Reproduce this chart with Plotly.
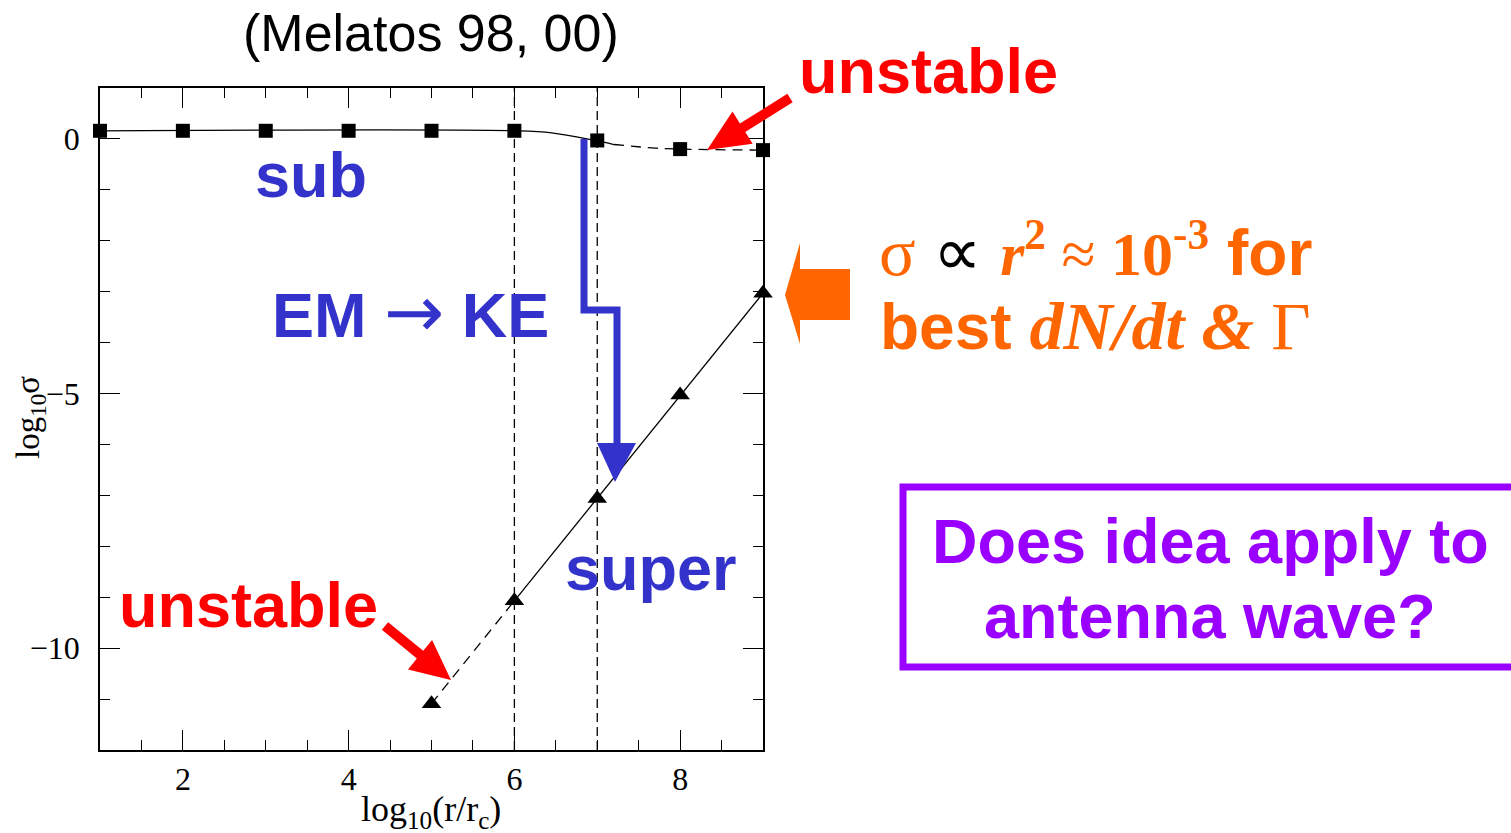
import plotly.graph_objects as go

# ---------------- data ----------------
x_sub = [1, 2, 3, 4, 5, 6, 7, 8, 9]
y_sub = [0.16, 0.16, 0.16, 0.16, 0.16, 0.16, -0.03, -0.20, -0.22]

x_sub_curve_solid = [1, 6, 6.45, 6.97, 7.2]
y_sub_curve_solid = [0.16, 0.16, 0.12, -0.03, -0.11]
x_sub_curve_dash = [7.2, 7.7, 8, 9]
y_sub_curve_dash = [-0.11, -0.18, -0.20, -0.22]

x_super = [5, 6, 7, 8, 9]
y_super = [-11.09, -9.07, -7.06, -5.03, -3.03]

x_super_dash = [5, 6]
y_super_dash = [-11.09, -9.07]
x_super_solid = [6, 7, 8, 9]
y_super_solid = [-9.07, -7.06, -5.03, -3.03]

vlines_x = [6, 7]
x_range = [1, 9]
y_range = [-12, 1]

# ---------------- layout geometry (pixels) ----------------
W, H = 1511, 833
L, R, T, B = 100, 763, 88, 750


def P(px, py):
    return (px - L) / (R - L), (B - py) / (B - T)


def poly(points):
    s = ""
    for i, (px, py) in enumerate(points):
        a, b = P(px, py)
        s += ("M" if i == 0 else " L") + f" {a:.5f} {b:.5f}"
    return s


def arrow_points(tail, tip, shaft_w, head_len, head_w):
    import math
    dx, dy = tip[0] - tail[0], tip[1] - tail[1]
    d = math.hypot(dx, dy)
    ux, uy = dx / d, dy / d
    nx, ny = -uy, ux
    bx, by = tip[0] - ux * head_len, tip[1] - uy * head_len
    sw, hw = shaft_w / 2, head_w / 2
    return [
        (tail[0] + nx * sw, tail[1] + ny * sw),
        (bx + nx * sw, by + ny * sw),
        (bx + nx * hw, by + ny * hw),
        tip,
        (bx - nx * hw, by - ny * hw),
        (bx - nx * sw, by - ny * sw),
        (tail[0] - nx * sw, tail[1] - ny * sw),
    ]


BLUE = "#3333cc"
RED = "#ff0000"
ORANGE = "#ff6600"
PURPLE = "#9900ff"

fig = go.Figure()

fig.add_trace(go.Scatter(x=x_sub_curve_solid, y=y_sub_curve_solid, mode="lines",
                         line=dict(color="black", width=1.3, shape="spline"),
                         hoverinfo="skip", showlegend=False))
fig.add_trace(go.Scatter(x=x_sub_curve_dash, y=y_sub_curve_dash, mode="lines",
                         line=dict(color="black", width=1.3, dash="10px,7px", shape="spline"),
                         hoverinfo="skip", showlegend=False))
fig.add_trace(go.Scatter(x=x_super_dash, y=y_super_dash, mode="lines",
                         line=dict(color="black", width=1.3, dash="10px,7px"),
                         hoverinfo="skip", showlegend=False))
fig.add_trace(go.Scatter(x=x_super_solid, y=y_super_solid, mode="lines",
                         line=dict(color="black", width=1.3),
                         hoverinfo="skip", showlegend=False))
fig.add_trace(go.Scatter(x=x_sub, y=y_sub, mode="markers",
                         marker=dict(symbol="square", size=14, color="black"),
                         showlegend=False, cliponaxis=False))
fig.add_trace(go.Scatter(x=x_super, y=y_super, mode="markers",
                         marker=dict(symbol="triangle-up", size=17, color="black"),
                         showlegend=False, cliponaxis=False))

shapes = []
for xv in vlines_x:
    shapes.append(dict(type="line", xref="x", yref="paper", x0=xv, x1=xv, y0=0, y1=1,
                       line=dict(color="black", width=1.3, dash="9px,5px"), layer="above"))

# blue step arrow
shapes.append(dict(type="path", xref="paper", yref="paper",
                   path=poly([(584, 139), (584, 310), (617, 310), (617, 445)]),
                   line=dict(color=BLUE, width=7), fillcolor="rgba(0,0,0,0)"))
shapes.append(dict(type="path", xref="paper", yref="paper",
                   path=poly([(597, 443), (636, 443), (615, 482)]) + " Z",
                   line=dict(color=BLUE, width=0), fillcolor=BLUE))

# red arrows
for tail, tip, hl, hw in [((790, 98), (707, 150), 42, 38), ((385, 626), (451, 680), 40, 38)]:
    shapes.append(dict(type="path", xref="paper", yref="paper",
                       path=poly(arrow_points(tail, tip, 10, hl, hw)) + " Z",
                       line=dict(color=RED, width=0), fillcolor=RED))

# orange block arrow
shapes.append(dict(type="path", xref="paper", yref="paper",
                   path=poly([(850, 269), (800, 269), (800, 243), (785, 295), (800, 344),
                              (800, 320), (850, 320)]) + " Z",
                   line=dict(color=ORANGE, width=0), fillcolor=ORANGE))

# purple box
bx0, by0 = P(903, 667)
bx1, by1 = P(1530, 487)
shapes.append(dict(type="rect", xref="paper", yref="paper", x0=bx0, x1=bx1, y0=by0, y1=by1,
                   line=dict(color=PURPLE, width=7), fillcolor="rgba(0,0,0,0)"))

annotations = []


def ann(text, px, py, size, color, family="Liberation Sans", xanchor="center", angle=0):
    a, b = P(px, py)
    annotations.append(dict(text=text, x=a, y=b, xref="paper", yref="paper", showarrow=False,
                            xanchor=xanchor, yanchor="middle", borderpad=0, textangle=angle,
                            font=dict(family=family, size=size, color=color)))


ann("(Melatos 98, 00)", 431, 33, 52, "black")
ann("<b>unstable</b>", 928, 71, 63, RED)
ann("<b>unstable</b>", 248, 605, 63, RED)
ann("<b>sub</b>", 311, 175, 63, BLUE)
ann("<b>EM</b> <span style='font-family:DejaVu Sans;font-size:72px'>→</span> <b>KE</b>",
    410, 312, 63, BLUE)
ann("<b>super</b>", 651, 568, 63, BLUE)
ann("<b>Does idea apply to</b>", 1210, 541, 63, PURPLE)
ann("<b>antenna wave?</b>", 1210, 616, 63, PURPLE)

SER = "font-family:Liberation Serif;font-size:68px"
SER1 = "font-family:Liberation Serif;font-size:62px"
line1 = (f"<span style='{SER}'>σ</span> "
         f"<span style='{SER};color:#000000'>∝</span> "
         f"<span style='{SER1}'><b><i>r</i></b><sup><b>2</b></sup> ≈ "
         "<b>10</b><sup><b>-3</b></sup></span> <b>for</b>")
line2 = (f"<b>best</b> <span style='{SER}'><b><i>dN/dt</i></b> "
         "<b><i>&amp;</i></b> Γ</span>")
ann(line1, 878, 250, 64, ORANGE, xanchor="left")
ann(line2, 879, 326, 64, ORANGE, xanchor="left")

ann("log<sub>10</sub>σ", 30, 418, 33, "black", family="Liberation Serif", angle=-90)
ann("log<sub>10</sub>(r/r<sub>c</sub>)", 431, 811, 36, "black", family="Liberation Serif")

axis_common = dict(showgrid=False, zeroline=False, showline=True, linecolor="black", linewidth=1.5,
                   mirror="allticks", ticks="inside", tickcolor="black", tickwidth=1.3, ticklen=20,
                   tickfont=dict(family="Liberation Serif", size=32, color="black"))

fig.update_layout(
    width=W, height=H,
    margin=dict(l=L, r=W - R, t=T, b=H - B, pad=0),
    paper_bgcolor="white", plot_bgcolor="white",
    showlegend=False,
    xaxis=dict(range=x_range, tick0=0, dtick=2, ticklabelstandoff=0,
               minor=dict(dtick=0.5, ticklen=10, tickcolor="black", tickwidth=1.3, ticks="inside"),
               **axis_common),
    yaxis=dict(range=y_range, tick0=0, dtick=5, ticklabelstandoff=12,
               minor=dict(dtick=1, ticklen=10, tickcolor="black", tickwidth=1.3, ticks="inside"),
               **axis_common),
    shapes=shapes,
    annotations=annotations,
)

fig.write_html("out.html")
